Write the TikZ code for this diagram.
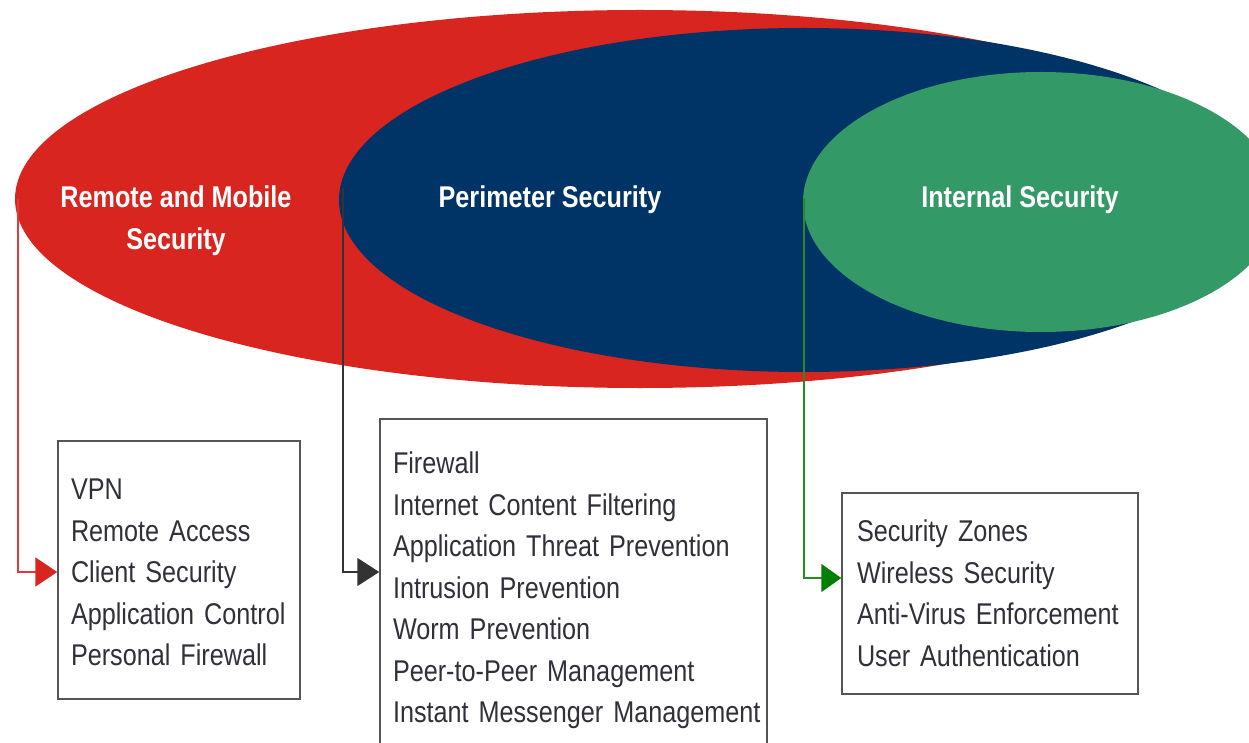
\documentclass[tikz,border=0pt]{standalone}
\usepackage{fontspec}
\setmainfont{Liberation Sans}[FakeStretch=0.84]
\usetikzlibrary{shapes.geometric,arrows.meta}
\definecolor{cred}{HTML}{D9251F}
\definecolor{cblue}{HTML}{003366}
\definecolor{cgreen}{HTML}{339966}
\definecolor{linered}{HTML}{E23A36}
\definecolor{linedark}{HTML}{333333}
\definecolor{linegreen}{HTML}{2A8A2A}
\definecolor{arrowgreen}{HTML}{008000}
\definecolor{boxgray}{HTML}{555555}
\definecolor{textc}{HTML}{30303A}
\begin{document}
\begin{tikzpicture}[x=1pt,y=-1pt,
  ell/.style={ellipse, inner sep=0pt, draw=none},
  title/.style={text=white, align=center, font=\bfseries\fontsize{30}{42}\selectfont, inner sep=0pt},
  listbox/.style={draw=boxgray, line width=1.5pt, fill=white, text=textc,
    font=\fontsize{30}{41.5}\selectfont, align=left, inner ysep=0pt},
  conn/.style={line width=1.6pt}
]
\useasboundingbox (0,0) rectangle (1249,743);
\clip (0,0) rectangle (1249,743);
\fill[white] (0,0) rectangle (1249,743);

% ellipses
\node[ell, fill=cred, minimum width=1250pt, minimum height=378pt] (remote) at (640,199) {};
\node[ell, fill=cblue, minimum width=930pt, minimum height=344pt] (perim) at (804,200) {};
\node[ell, fill=cgreen, minimum width=476pt, minimum height=260pt] (internal) at (1041,202) {};

% titles
\node[title] (t1) at (176,221) {Remote and Mobile\\Security};
\node[title] (t2) at (550,200) {Perimeter Security};
\node[title] (t3) at (1020,200) {Internal Security};

% boxes
\node[listbox, text width=216pt, inner xsep=13pt, minimum height=258pt] (box1) at (179,570)
  {\mbox{\rule{0pt}{26pt}VPN}\\\mbox{Remote Access}\\\mbox{Client Security}\\\mbox{Application Control}\\\mbox{Personal Firewall}};
\node[listbox, text width=361pt, inner xsep=13pt, minimum height=343pt] (box2) at (573.5,590.5)
  {\mbox{Firewall}\\\mbox{Internet Content Filtering}\\\mbox{Application Threat Prevention}\\\mbox{Intrusion Prevention}\\\mbox{Worm Prevention}\\\mbox{Peer-to-Peer Management}\\\mbox{Instant Messenger Management}};
\node[listbox, text width=266pt, inner xsep=15pt, minimum height=201pt] (box3) at (990,593.5)
  {\mbox{Security Zones}\\\mbox{Wireless Security}\\\mbox{Anti-Virus Enforcement}\\\mbox{User Authentication}};

% connectors
\draw[conn, linered, -{Triangle[length=22pt,width=29pt,color=cred]}]
  ([xshift=3pt]remote.west) |- ([yshift=-2pt]box1.west);
\draw[conn, linedark, -{Triangle[length=22pt,width=28pt]}]
  ([xshift=4pt,yshift=12pt]perim.west) |- ([yshift=18.5pt]box2.west);
\draw[conn, linegreen, -{Triangle[length=20pt,width=28pt,color=arrowgreen]}]
  ([xshift=1pt,yshift=4pt]internal.west) |- ([yshift=15.5pt]box3.west);
\end{tikzpicture}
\end{document}
